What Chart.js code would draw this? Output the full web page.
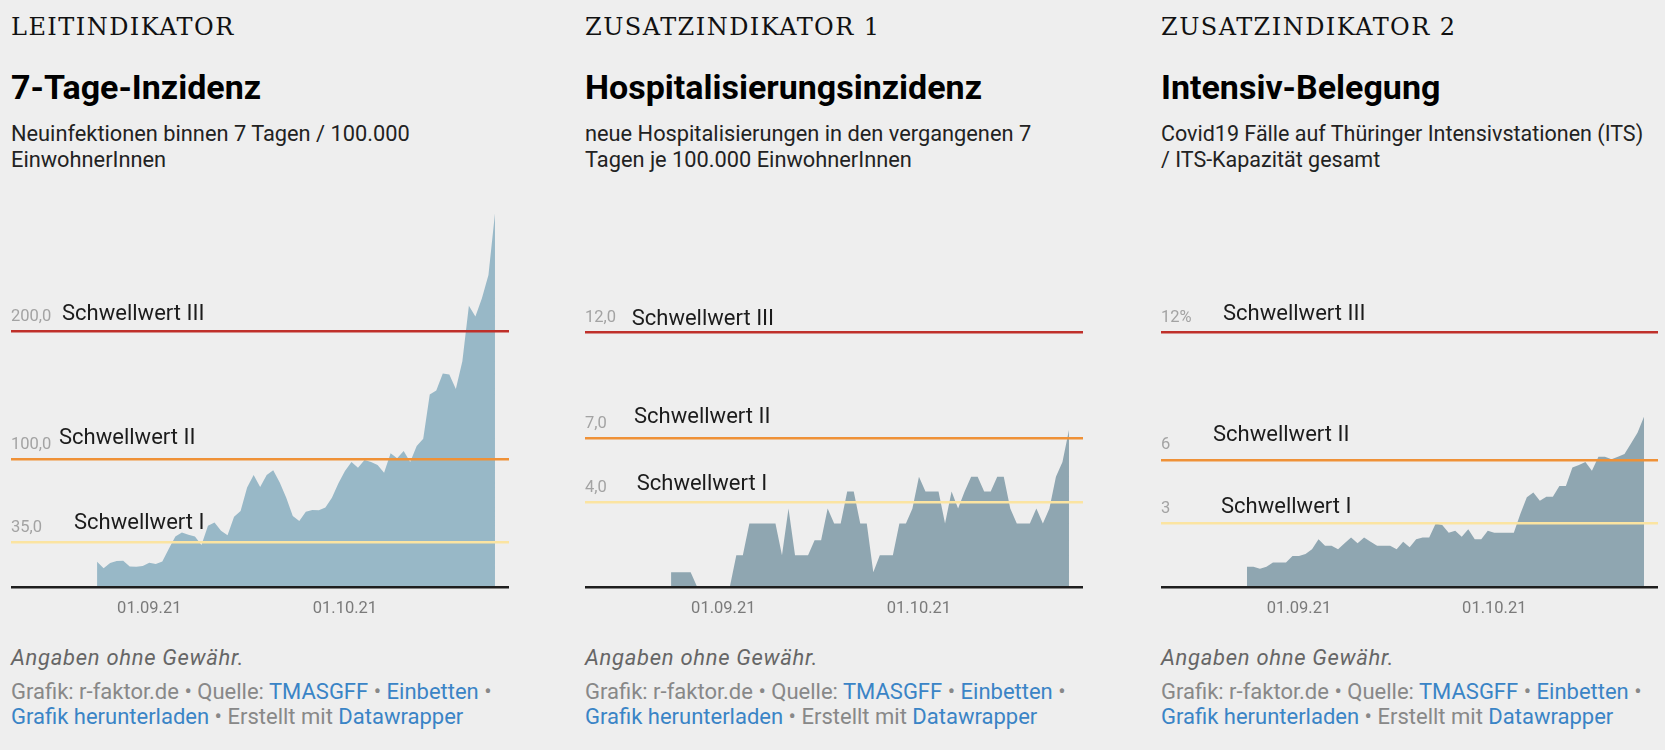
<!DOCTYPE html>
<html lang="de">
<head>
<meta charset="utf-8">
<title>Corona-Warnstufen Thüringen</title>
<script src="https://cdn.jsdelivr.net/npm/chart.js@4.4.1/dist/chart.umd.min.js"></script>
<style>
  html, body { margin: 0; padding: 0; }
  body {
    width: 1665px; height: 750px; position: relative; overflow: hidden;
    background: #eeeeee; font-family: Roboto, sans-serif; color: #222;
  }
  .col { position: absolute; top: 0; height: 750px; }
  .col > div { position: absolute; left: 0; white-space: nowrap; }
  .kicker { top: 11.8px; font-family: "DejaVu Serif", serif; font-size: 24px; line-height: 30px; letter-spacing: 1.45px; color: #111; }
  .title { top: 67.4px; font-weight: 700; font-size: 34px; line-height: 40px; color: #000; }
  .desc { top: 121.3px; font-size: 21.8px; line-height: 26px; color: #222; }
  .chart { top: 200px; height: 430px; width: 100%; }
  .note { top: 644.5px; font-style: italic; font-size: 22px; line-height: 26px; letter-spacing: 0.7px; color: #666; }
  .byline { top: 678.8px; font-size: 22px; line-height: 25.3px; color: #888; }
  .byline a { color: #3a84c6; text-decoration: none; }
</style>
</head>
<body>

<div class="col" style="left:11px; width:498px;">
  <div class="kicker">LEITINDIKATOR</div>
  <div class="title">7-Tage-Inzidenz</div>
  <div class="desc">Neuinfektionen binnen 7 Tagen / 100.000<br>EinwohnerInnen</div>
  <div class="chart"><canvas id="c1"></canvas></div>
  <div class="note">Angaben ohne Gewähr.</div>
  <div class="byline">Grafik: r-faktor.de • Quelle: <a href="#">TMASGFF</a> • <a href="#">Einbetten</a> •<br><a href="#">Grafik herunterladen</a> • Erstellt mit <a href="#">Datawrapper</a></div>
</div>

<div class="col" style="left:585px; width:498px;">
  <div class="kicker">ZUSATZINDIKATOR 1</div>
  <div class="title">Hospitalisierungsinzidenz</div>
  <div class="desc">neue Hospitalisierungen in den vergangenen 7<br>Tagen je 100.000 EinwohnerInnen</div>
  <div class="chart"><canvas id="c2"></canvas></div>
  <div class="note">Angaben ohne Gewähr.</div>
  <div class="byline">Grafik: r-faktor.de • Quelle: <a href="#">TMASGFF</a> • <a href="#">Einbetten</a> •<br><a href="#">Grafik herunterladen</a> • Erstellt mit <a href="#">Datawrapper</a></div>
</div>

<div class="col" style="left:1161px; width:497px;">
  <div class="kicker">ZUSATZINDIKATOR 2</div>
  <div class="title">Intensiv-Belegung</div>
  <div class="desc" style="font-size:21.5px;">Covid19 Fälle auf Thüringer Intensivstationen (ITS)<br>/ ITS-Kapazität gesamt</div>
  <div class="chart"><canvas id="c3"></canvas></div>
  <div class="note">Angaben ohne Gewähr.</div>
  <div class="byline">Grafik: r-faktor.de • Quelle: <a href="#">TMASGFF</a> • <a href="#">Einbetten</a> •<br><a href="#">Grafik herunterladen</a> • Erstellt mit <a href="#">Datawrapper</a></div>
</div>

<script>
// first day of every series, one value per day up to 24.10.21
const startDate = '2021-08-24';
const tickDates = ['2021-09-01', '2021-10-01'];
const tickLabels = ['01.09.21', '01.10.21'];

const inzidenz = [
  19.8, 14.6, 18.8, 20.3, 20.6, 16.1, 15.9, 16.4, 19.0, 18.0,
  20.0, 30.0, 39.6, 42.7, 41.0, 39.6, 33.0, 48.0, 50.5, 44.0,
  40.6, 55.0, 59.6, 77.9, 87.8, 78.4, 87.8, 91.4, 81.8, 70.0,
  55.7, 51.8, 58.9, 60.4, 60.2, 62.2, 70.0, 81.3, 90.9, 97.9,
  93.5, 99.5, 97.9, 95.6, 89.6, 104.7, 100.8, 106.5, 97.9, 110.4,
  116.1, 150.8, 153.9, 167.2, 166.4, 155.2, 176.8, 220.3, 212.0, 226.3,
  244.5, 292.7
];
const hospitalisierung = [
  0.7, 0.7, 0.7, 0.7, 0, 0, 0, 0, 0, 0,
  1.5, 1.5, 3.0, 3.0, 3.0, 3.0, 3.0, 1.5, 3.7, 1.5,
  1.5, 1.5, 2.2, 2.2, 3.7, 3.0, 3.0, 4.5, 4.5, 3.0,
  3.0, 0.7, 1.5, 1.5, 1.5, 3.0, 3.0, 3.7, 5.2, 4.5,
  4.5, 4.5, 3.0, 4.5, 3.7, 4.5, 5.2, 5.2, 4.5, 4.5,
  5.2, 5.2, 3.7, 3.0, 3.0, 3.0, 3.7, 3.0, 3.7, 5.2,
  5.9, 7.4
];
const intensiv = [
  0.96, 0.96, 0.86, 0.96, 1.15, 1.15, 1.15, 1.46, 1.46, 1.56,
  1.78, 2.25, 1.95, 1.95, 1.78, 2.06, 2.34, 2.06, 2.34, 2.14,
  1.95, 1.95, 1.95, 1.78, 2.14, 1.87, 2.25, 2.34, 2.34, 3.0,
  2.92, 2.56, 2.65, 2.37, 2.72, 2.25, 2.25, 2.65, 2.56, 2.56,
  2.56, 2.56, 3.44, 4.23, 4.46, 4.07, 4.26, 4.26, 4.76, 4.76,
  5.64, 5.75, 5.9, 5.48, 6.14, 6.14, 6.03, 6.14, 6.27, 6.77,
  7.27, 8.03
];

const thresholdNames = ['Schwellwert I', 'Schwellwert II', 'Schwellwert III'];
const inzidenzThresholds = [35, 100, 200];
const inzidenzTicks = ['35,0', '100,0', '200,0'];
const hospThresholds = [4, 7, 12];
const hospTicks = ['4,0', '7,0', '12,0'];
const intensivThresholds = [3, 6, 12];
const intensivTicks = ['3', '6', '12%'];

const lineColors = ['#fbe4a1', '#ef9137', '#bf302a'];

Chart.defaults.font.family = 'Roboto';

// day number counted from 01.09.21
const dayOf = s => Math.round((Date.parse(s) - Date.parse('2021-09-01')) / 86400000);
const firstDay = dayOf(startDate);
const tickDays = tickDates.map(dayOf);

// Schwellwert captions sit above their line
const thresholdLabels = {
  id: 'thresholdLabels',
  afterDraw(chart, args, opts) {
    const {ctx, chartArea} = chart;
    const y = chart.scales.y;
    ctx.save();
    ctx.font = '22px Roboto';
    ctx.fillStyle = '#1c1c1c';
    ctx.textBaseline = 'alphabetic';
    ctx.textAlign = 'left';
    opts.values.forEach((v, i) => {
      const p = opts.pos[i];
      ctx.fillText(thresholdNames[i], chartArea.left + p[0], y.getPixelForValue(v) - p[1]);
    });
    ctx.restore();
  }
};

function makeChart(id, values, thresholds, yTicks, yMax, fillColor, labelPos) {
  new Chart(document.getElementById(id), {
    type: 'line',
    data: {
      datasets: [{
        data: values.map((v, i) => ({x: firstDay + i, y: v})),
        fill: 'origin',
        backgroundColor: fillColor,
        borderColor: 'transparent',
        borderWidth: 0,
        pointRadius: 0,
        tension: 0
      }]
    },
    options: {
      responsive: true,
      maintainAspectRatio: false,
      animation: false,
      layout: { padding: { top: 13, left: 0, right: 0, bottom: 0 } },
      plugins: {
        legend: { display: false },
        tooltip: { enabled: false },
        thresholdLabels: { values: thresholds, pos: labelPos }
      },
      scales: {
        x: {
          type: 'linear',
          min: -21.2,
          max: 55.15,
          afterFit: s => { s.height = 43; s.paddingLeft = 0; s.paddingRight = 0; },
          afterBuildTicks: s => { s.ticks = tickDays.map(v => ({value: v})); },
          grid: { display: false, drawTicks: false },
          border: { display: true, color: '#1e1e1e', width: 2.5, z: 1 },
          ticks: {
            color: '#7a7a7a', font: { size: 16.5 }, padding: 12,
            maxRotation: 0, autoSkip: false,
            callback: (v, i) => tickLabels[i]
          }
        },
        y: {
          min: 0,
          max: yMax,
          afterFit: s => { s.width = 0; s.paddingTop = 0; s.paddingBottom = 0; },
          afterBuildTicks: s => { s.ticks = thresholds.map(v => ({value: v})); },
          border: { display: false },
          grid: { z: 1, drawTicks: false, lineWidth: 2.5, color: c => lineColors[c.index] },
          ticks: {
            mirror: true, padding: 0, labelOffset: -14.5,
            color: '#a3a3a3', font: { size: 16.5 },
            callback: (v, i) => yTicks[i]
          }
        }
      }
    },
    plugins: [thresholdLabels]
  });
}

// caption offsets [dx from left edge, gap above line], ordered I, II, III
makeChart('c1', inzidenz, inzidenzThresholds, inzidenzTicks, 293, '#98b8c7',
  [[63, 13], [48, 15], [51, 12]]);
makeChart('c2', hospitalisierung, hospThresholds, hospTicks, 17.64, '#8fa6b1',
  [[51.7, 12], [49, 16], [46.7, 8]]);
makeChart('c3', intensiv, intensivThresholds, intensivTicks, 17.64, '#8fa6b1',
  [[60, 10], [52, 19], [62, 13]]);
</script>
</body>
</html>
